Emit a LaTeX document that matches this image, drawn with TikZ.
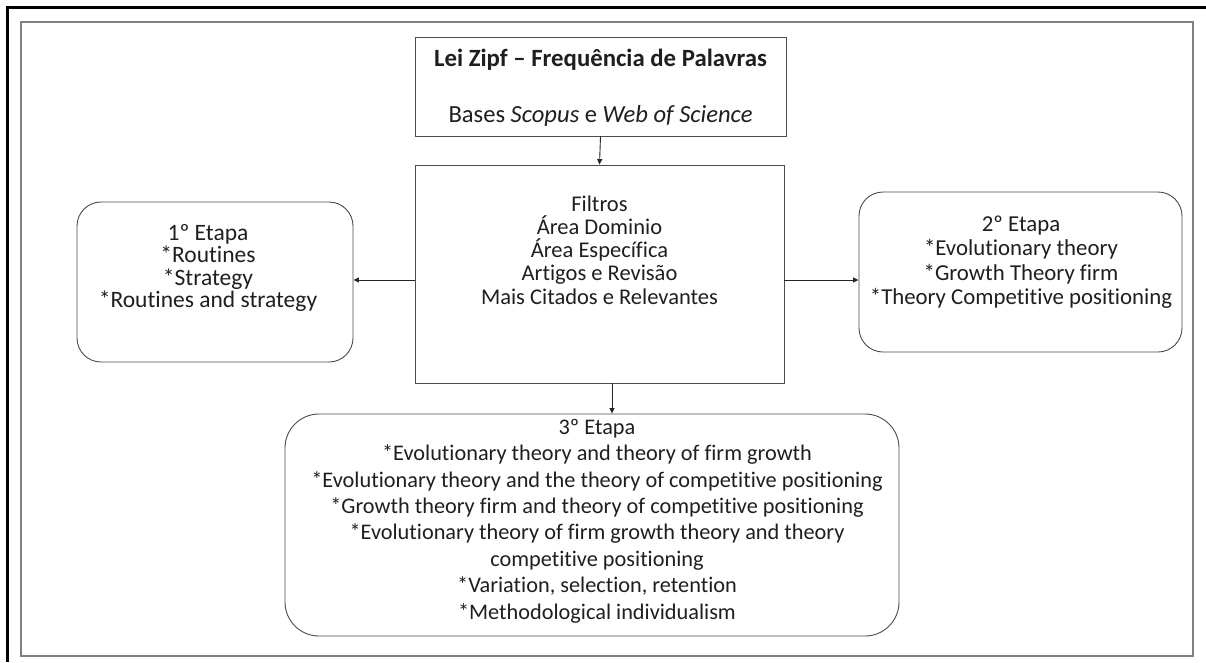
\documentclass[tikz,border=0pt]{standalone}
\usepackage{fontspec}
\setmainfont{Carlito}[RawFeature={-liga;-clig;-dlig;-calt}]
\usetikzlibrary{arrows.meta}

\begin{document}
\begin{tikzpicture}[x=1pt, y=-1pt,
  pageframe/.style={draw=black!50, line width=1.4pt},
  rule/.style={draw=black, line width=3pt},
  sqbox/.style={draw=black!70, line width=0.9pt, rectangle, inner sep=0pt, fill=white},
  rbox/.style={sqbox, rounded corners=24pt},
  bigrbox/.style={sqbox, rounded corners=34pt},
  txt/.style={align=center, inner sep=0pt, text=black!88},
  link/.style={draw=black!85, line width=0.9pt, -{Triangle[length=5.5pt,width=5pt]}},
]
\useasboundingbox (0,0) rectangle (1206,662);
\fill[white] (0,0) rectangle (1206,662);

% table rules of the surrounding page
\coordinate (ruleTL) at (7.5,7.5);
\coordinate (ruleTR) at (1206,7.5);
\coordinate (ruleBL) at (7.5,662);
\draw[rule] (ruleTR) -- (ruleTL) -- (ruleBL);

% outer frame of the figure
\draw[pageframe] (21,22) rectangle (1193,656);

% boxes
\node[sqbox, minimum width=371pt, minimum height=99pt] (zipf) at (600.5,86.5) {};
\node[sqbox, minimum width=369pt, minimum height=218pt] (filt) at (599.5,274) {};
\node[rbox, minimum width=276pt, minimum height=160pt] (step1) at (215,282) {};
\node[rbox, minimum width=323pt, minimum height=160pt] (step2) at (1020.5,272) {};
\node[bigrbox, minimum width=614pt, minimum height=222pt] (step3) at (592,525) {};

% texts
\node[txt, font={\fontsize{24.8}{26}\selectfont\bfseries}] (zipfT) at (600.5,60)
  {Lei Zipf – Frequência de Palavras};
\node[txt, font={\fontsize{24.6}{26}\selectfont}] (zipfB) at (600.5,116)
  {Bases \textit{Scopus} e \textit{Web of Science}};

\node[txt, font={\fontsize{22.5}{23.2}\selectfont}] (filtT) at (599.5,250)
  {Filtros\\Área Dominio\\Área Específica\\Artigos e Revisão\\Mais Citados e Relevantes};

\node[txt, font={\fontsize{23.5}{22.6}\selectfont}] (step1T) at (208,268)
  {1º Etapa\\*Routines\\*Strategy\\*Routines and strategy};

\node[txt, font={\fontsize{22.8}{24.5}\selectfont}] (step2T) at (1021,262)
  {2º Etapa\\*Evolutionary theory\\*Growth Theory firm\\*Theory Competitive positioning};

\node[txt, font={\fontsize{22.3}{26.4}\selectfont}] (step3T) at (597,521)
  {3º Etapa\\*Evolutionary theory and theory of firm growth\\*Evolutionary theory and the theory of competitive positioning\\*Growth theory firm and theory of competitive positioning\\*Evolutionary theory of firm growth theory and theory\\competitive positioning\\*Variation, selection, retention\\*Methodological individualism};

% connectors
\draw[link] (zipf.south) -- (filt.north);
\draw[link] (filt.west |- 0,280) -- (step1.east |- 0,280);
\draw[link] (filt.east |- 0,280) -- (step2.west |- 0,280);
\draw[link] (filt.south -| 612,0) -- (step3.north -| 612,0);
\end{tikzpicture}
\end{document}
